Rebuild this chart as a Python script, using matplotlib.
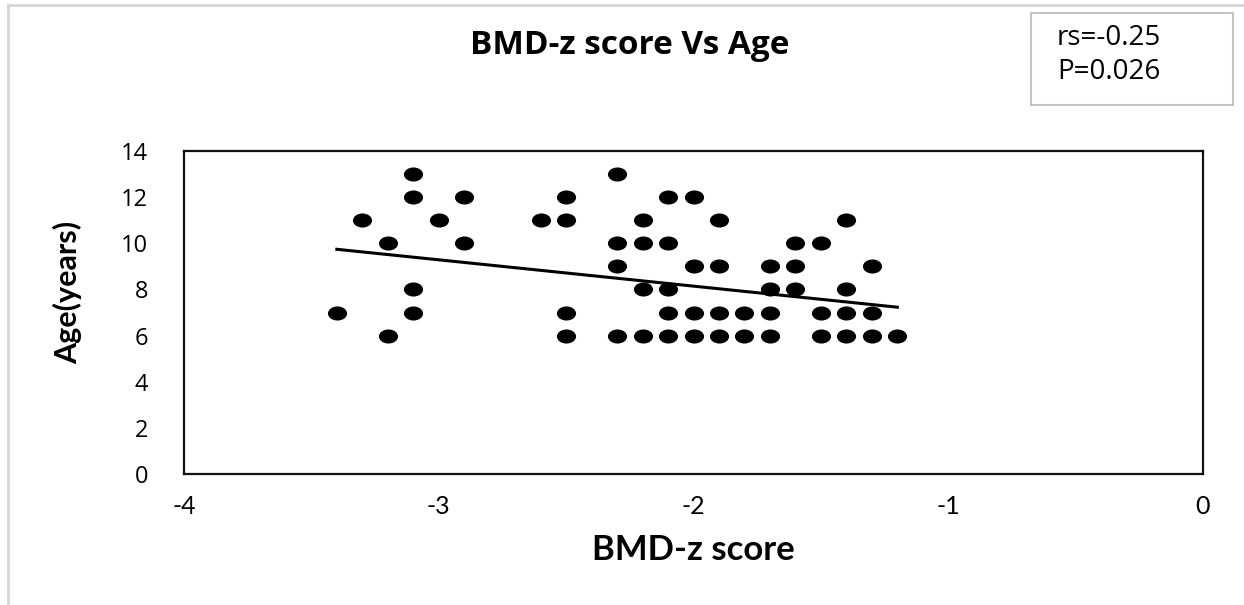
import matplotlib
matplotlib.use("Agg")
import matplotlib.pyplot as plt
from matplotlib.path import Path
from matplotlib.transforms import Affine2D
from matplotlib.patches import Rectangle
from matplotlib.lines import Line2D

# BMD-z score (x) and age in years (y), one entry per child
bmd_z = [-3.4, -3.3, -3.2, -3.2, -3.1, -3.1, -3.1, -3.1, -3.0, -2.9, -2.9,
         -2.6, -2.5, -2.5, -2.5, -2.5,
         -2.3, -2.3, -2.3, -2.3, -2.2, -2.2, -2.2, -2.2,
         -2.1, -2.1, -2.1, -2.1, -2.1, -2.0, -2.0, -2.0, -2.0,
         -1.9, -1.9, -1.9, -1.9, -1.8, -1.8, -1.7, -1.7, -1.7, -1.7,
         -1.6, -1.6, -1.6, -1.5, -1.5, -1.5, -1.4, -1.4, -1.4, -1.4,
         -1.3, -1.3, -1.3, -1.2]
age = [7, 11, 10, 6, 13, 12, 8, 7, 11, 12, 10,
       11, 12, 11, 7, 6,
       13, 10, 9, 6, 11, 10, 8, 6,
       12, 10, 8, 7, 6, 12, 9, 7, 6,
       11, 9, 7, 6, 7, 6, 9, 8, 7, 6,
       10, 9, 8, 10, 7, 6, 11, 8, 7, 6,
       9, 7, 6, 6]

# trend line as drawn in the original
trend_x = [-3.4, -1.2]
trend_y = [9.74, 7.23]

x_ticks = [-4, -3, -2, -1, 0]
y_ticks = [0, 2, 4, 6, 8, 10, 12, 14]
stats_text = "rs=-0.25\nP=0.026"

W, H = 1244, 605
fig = plt.figure(figsize=(W / 100, H / 100), dpi=100)

# light grey page frame (top and left edges of the screenshot)
fig.add_artist(Line2D([8 / W, 8 / W], [0, 1 - 5 / H], transform=fig.transFigure,
                      color="#d6d6d6", lw=2))
fig.add_artist(Line2D([8 / W, 1], [1 - 5 / H, 1 - 5 / H], transform=fig.transFigure,
                      color="#d6d6d6", lw=2))

ax = fig.add_axes([184 / W, 1 - 474 / H, (1203 - 184) / W, (474 - 151) / H])

# the dots are slightly wider than tall in the source
ellipse = Path.unit_circle().transformed(Affine2D().scale(1.36, 1.0))
ax.scatter(bmd_z, age, marker=ellipse, s=190, color="black", linewidths=0, zorder=3)
ax.plot(trend_x, trend_y, color="black", lw=2.2, zorder=2)

ax.set_xlim(-4, 0)
ax.set_ylim(0, 14)
ax.set_xticks(x_ticks)
ax.set_yticks(y_ticks)
ax.tick_params(length=0)
for s in ax.spines.values():
    s.set_linewidth(1.6)
    s.set_color("#111111")

narrow = "Lato"
ax.set_xticklabels([str(v) for v in x_ticks], family=narrow, fontsize=18)
ax.set_yticklabels([str(v) for v in y_ticks], family="Open Sans", fontsize=17)
ax.tick_params(axis="x", pad=15)
ax.tick_params(axis="y", pad=26)

ax.set_xlabel("BMD-z score", family=narrow, fontweight="bold", fontsize=25)
ax.set_ylabel("Age(years)", family=narrow, fontweight="bold", fontsize=22)
ax.xaxis.set_label_coords(0.5, -0.185)
ax.yaxis.set_label_coords(-0.100, 0.563)

fig.text(630 / W, 1 - 45 / H, "BMD-z score Vs Age", family="Open Sans",
         fontweight="bold", fontsize=24, ha="center", va="center")

# stats box
fig.add_artist(Rectangle((1031 / W, 1 - 105 / H), (1233 - 1031) / W, (105 - 13) / H,
                         transform=fig.transFigure, fill=False,
                         edgecolor="#c4c4c4", lw=1.5))
fig.text(1057 / W, 1 - 55 / H, stats_text, family="Open Sans", fontsize=20,
         ha="left", va="center", linespacing=1.32)

fig.savefig("out.png", dpi=100)
